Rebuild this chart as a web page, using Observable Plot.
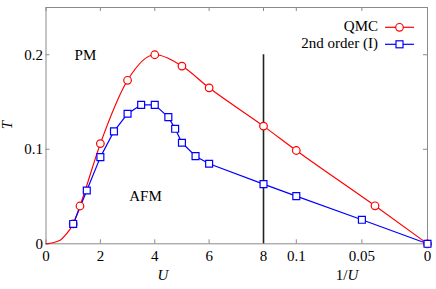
<!DOCTYPE html>
<html><head><meta charset="utf-8">
<script src="https://cdn.jsdelivr.net/npm/d3@7"></script>
<script src="https://cdn.jsdelivr.net/npm/@observablehq/plot@0.6"></script>
<style>
body{margin:0;background:#fff}
svg, svg text { font-family: "Liberation Serif", "Times New Roman", "DejaVu Serif", serif !important; }
</style>
</head><body><div id="chart"></div>
<script>
// QMC data (left part: U, right part: 1/U)
const qmcU = [1, 1.25, 2, 3, 4, 5, 6, 8];
const qmcT = [0.021, 0.040, 0.106, 0.173, 0.200, 0.188, 0.165, 0.1245];
const qmcInvU = [0.1, 0.04, 0];
const qmcInvT = [0.0987, 0.0402, 0];
// QMC fitted curve near origin
const fitU = [0, 0.5, 0.75];
const fitT = [0, 0.0035, 0.0105];
// 2nd order (I)
const so2U = [1, 1.5, 2, 2.5, 3, 3.5, 4, 4.5, 4.75, 5, 5.5, 6, 8];
const so2T = [0.021, 0.0564, 0.0917, 0.119, 0.1376, 0.147, 0.147, 0.134, 0.1217, 0.1069, 0.0927, 0.0847, 0.0631];
const so2InvU = [0.1, 0.05, 0];
const so2InvT = [0.0504, 0.0254, 0];
// ticks
const uTicks = [0, 2, 4, 6, 8];
const invTicks = [0.1, 0.05, 0];
const invTickLabels = ["0.1", "0.05", "0"];
const yTicks = [0, 0.1, 0.2];
const yTickLabels = ["0", "0.1", "0.2"];
const seriesNames = ["QMC", "2nd order (I)"];
const seriesColors = ["#ff0000", "#0000ff"];

const W = 6.032; // width of the 1/U section in U units
const posInv = v => 8 + (0.125 - v) / 0.125 * W;

const qmcPts = qmcU.map((u, i) => ({x: u, T: qmcT[i]}))
  .concat(qmcInvU.map((v, i) => ({x: posInv(v), T: qmcInvT[i]})));
const fitPts = fitU.map((u, i) => ({x: u, T: fitT[i]})).concat(qmcPts);
const so2Pts = so2U.map((u, i) => ({x: u, T: so2T[i]}))
  .concat(so2InvU.map((v, i) => ({x: posInv(v), T: so2InvT[i]})));

const xTicks = uTicks.map(u => ({x: u, label: String(u)}))
  .concat(invTicks.map((v, i) => ({x: posInv(v), label: invTickLabels[i]})));
const yT = yTicks.map((t, i) => ({y: t, label: yTickLabels[i]}));

const font = "'Liberation Serif', 'Times New Roman', serif";
const H = 289, mT = 7, mB = 45.7;
const innerH = H - mT - mB;

const plot = Plot.plot({
  width: 436, height: H,
  marginLeft: 45.5, marginRight: 9, marginTop: mT, marginBottom: mB,
  style: {fontFamily: font, fontSize: "15px", background: "white"},
  x: {domain: [0, 8 + W], axis: null},
  y: {domain: [0, 0.25], axis: null},
  marks: [
    Plot.frame({stroke: "#8a8a8a", strokeWidth: 1}),
    // inward ticks
    Plot.tickX(xTicks, {x: "x", stroke: "#8a8a8a", insetTop: innerH - 4}),
    Plot.tickX(xTicks, {x: "x", stroke: "#8a8a8a", insetBottom: innerH - 4}),
    Plot.tickY(yT, {y: "y", stroke: "#8a8a8a", insetRight: 381.5 - 4}),
    Plot.tickY(yT, {y: "y", stroke: "#8a8a8a", insetLeft: 381.5 - 4}),
    // tick labels
    Plot.text(xTicks, {x: "x", text: "label", frameAnchor: "bottom", dy: 12, lineAnchor: "middle", fill: "black", fontSize: 15, fontFamily: font}),
    Plot.text(yT, {y: "y", text: "label", frameAnchor: "left", dx: -3, textAnchor: "end", fill: "black", fontSize: 15, fontFamily: font}),
    // vertical separator at U = 8
    Plot.ruleX([8], {y1: 0, y2: 0.2, stroke: "#222", strokeWidth: 1.6}),
    // series
    Plot.line(fitPts, {x: "x", y: "T", stroke: seriesColors[0], strokeWidth: 1.2, curve: "monotone-x"}),
    Plot.line(so2Pts, {x: "x", y: "T", stroke: seriesColors[1], strokeWidth: 1.2}),
    Plot.dot(qmcPts, {x: "x", y: "T", r: 3.8, stroke: seriesColors[0], fill: "white", strokeWidth: 1.2}),
    Plot.dot(so2Pts, {x: "x", y: "T", r: 3.9, symbol: "square", stroke: seriesColors[1], fill: "white", strokeWidth: 1.2}),
    // region labels
    Plot.text(["PM"], {x: 1.45, y: 0.2, text: d => d, fill: "black", fontSize: 15, fontFamily: font}),
    Plot.text(["AFM"], {x: 3.66, y: 0.05, text: d => d, fill: "black", fontSize: 15, fontFamily: font})
  ]
});
document.getElementById("chart").appendChild(plot);

const svg = d3.select(plot);
// axis titles
svg.append("text").attr("x", 163).attr("y", 277).attr("text-anchor", "middle").attr("dominant-baseline", "middle")
  .style("font-family", font).attr("font-size", 15).attr("font-style", "italic").text("U");
const inv = svg.append("text").attr("x", 347).attr("y", 277).attr("text-anchor", "middle").attr("dominant-baseline", "middle")
  .style("font-family", font).attr("font-size", 15);
inv.append("tspan").text("1/");
inv.append("tspan").attr("font-style", "italic").text("U");
svg.append("text").attr("transform", "translate(9,125) rotate(-90)").attr("text-anchor", "middle").attr("dominant-baseline", "middle")
  .style("font-family", font).attr("font-size", 15).attr("font-style", "italic").text("T");
// legend
const legY = [27.3, 44.3];
seriesNames.forEach((name, i) => {
  const g = svg.append("g");
  g.append("text").attr("x", 378).attr("y", legY[i]).attr("text-anchor", "end").attr("dominant-baseline", "middle")
    .style("font-family", font).attr("font-size", 15).attr("fill", "black").text(name);
  g.append("line").attr("x1", 385).attr("x2", 414).attr("y1", legY[i]).attr("y2", legY[i])
    .attr("stroke", seriesColors[i]).attr("stroke-width", 1.2);
  if (i === 0) {
    g.append("circle").attr("cx", 399.5).attr("cy", legY[i]).attr("r", 3.8).attr("fill", "white")
      .attr("stroke", seriesColors[i]).attr("stroke-width", 1.2);
  } else {
    g.append("rect").attr("x", 399.5 - 3.5).attr("y", legY[i] - 3.5).attr("width", 7).attr("height", 7).attr("fill", "white")
      .attr("stroke", seriesColors[i]).attr("stroke-width", 1.2);
  }
});
</script>
</body></html>
